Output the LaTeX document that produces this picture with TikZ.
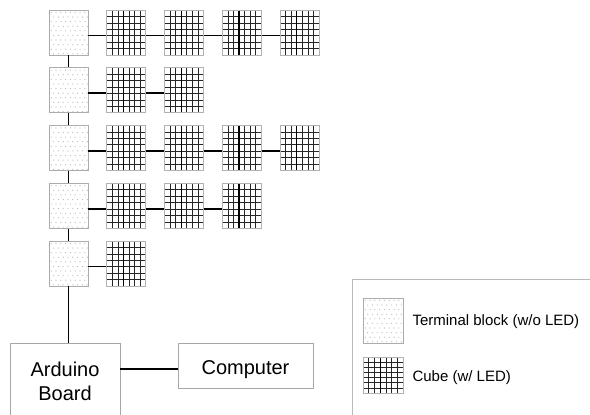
\documentclass[tikz,border=0pt]{standalone}
\usepackage{fontspec}
\setmainfont{Liberation Sans}
\usetikzlibrary{calc}
\newcommand\tbdots{%
  \foreach \r in {0,...,9}{\foreach \c in {0,...,8}{
    \pgfmathsetmacro\dx{2.2+\c*4.8+mod(\r,2)*2.4}
    \fill[gray!55] ($(path picture bounding box.north west)+(\dx,{2.4+\r*4.6})$) circle (0.6pt);}}}
\newcommand\cubegrid{%
  \foreach \i in {1,...,6}{
    \draw[black!85,line width=0.6pt] ($(path picture bounding box.north west)!\i/7!(path picture bounding box.north east)$) -- ($(path picture bounding box.south west)!\i/7!(path picture bounding box.south east)$);
    \draw[black!85,line width=0.6pt] ($(path picture bounding box.north west)!\i/7!(path picture bounding box.south west)$) -- ($(path picture bounding box.north east)!\i/7!(path picture bounding box.south east)$);}
  \draw[black,line width=1.1pt] ($(path picture bounding box.north west)!3/7!(path picture bounding box.north east)$) -- ($(path picture bounding box.south west)!3/7!(path picture bounding box.south east)$);}
\begin{document}
\begin{tikzpicture}[x=1pt,y=-1pt,
  tblock/.style={draw=gray!65, line width=0.9pt, minimum width=39pt, minimum height=45pt, inner sep=0pt, path picture={\tbdots}},
  cube/.style={draw=gray!60, line width=0.9pt, minimum width=39pt, minimum height=45pt, inner sep=0pt, path picture={\cubegrid}},
  conn/.style={black, line width=1.8pt},
  box/.style={draw=gray!70, line width=0.8pt, inner sep=0pt, font=\fontsize{20}{24}\selectfont, align=center},
  legtext/.style={anchor=west, font=\fontsize{15}{18}\selectfont}]
\clip (0,0) rectangle (590,415);
\fill[white] (0,0) rectangle (590,415);
% terminal blocks and cubes
\foreach \r/\n in {1/4,2/2,3/4,4/3,5/1}{
  \node[tblock] (tb\r) at (68.5,{32.5+(\r-1)*57.75}) {};
  \foreach \k in {1,...,\n}{
    \node[cube] (c\r\k) at ({68.5+\k*57.75},{32.5+(\r-1)*57.75}) {};
  }
}
% vertical connectors
\draw[conn] (tb1.south) -- (tb2.north);
\draw[conn] (tb2.south) -- (tb3.north);
\draw[conn] (tb3.south) -- (tb4.north);
\draw[conn] (tb4.south) -- (tb5.north);
% horizontal connectors
\draw[conn] ([yshift=-3pt]tb1.east) -- ([yshift=-3pt]c11.west);
\draw[conn] ([yshift=-3pt]c11.east) -- ([yshift=-3pt]c12.west);
\draw[conn] ([yshift=-3pt]c12.east) -- ([yshift=-3pt]c13.west);
\draw[conn] ([yshift=-3pt]c13.east) -- ([yshift=-3pt]c14.west);
\draw[conn] ([yshift=-3pt]tb2.east) -- ([yshift=-3pt]c21.west);
\draw[conn] ([yshift=-3pt]c21.east) -- ([yshift=-3pt]c22.west);
\draw[conn] ([yshift=-3pt]tb3.east) -- ([yshift=-3pt]c31.west);
\draw[conn] ([yshift=-3pt]c31.east) -- ([yshift=-3pt]c32.west);
\draw[conn] ([yshift=-3pt]c32.east) -- ([yshift=-3pt]c33.west);
\draw[conn] ([yshift=-3pt]c33.east) -- ([yshift=-3pt]c34.west);
\draw[conn] ([yshift=-3pt]tb4.east) -- ([yshift=-3pt]c41.west);
\draw[conn] ([yshift=-3pt]c41.east) -- ([yshift=-3pt]c42.west);
\draw[conn] ([yshift=-3pt]c42.east) -- ([yshift=-3pt]c43.west);
\draw[conn] ([yshift=-3pt]tb5.east) -- ([yshift=-3pt]c51.west);
% arduino and computer
\node[box, minimum width=110pt, minimum height=76pt, anchor=north] (ard) at (65,343) {Arduino\\Board};
\node[box, minimum width=135pt, minimum height=45pt, text height=22pt, text depth=4pt] (comp) at (245.5,365.5) {Computer};
\draw[conn] (tb5.south) -- (tb5.south |- ard.north);
\coordinate (cl) at ([yshift=-3.5pt]comp.west);
\draw[conn] (cl) -- (cl -| ard.east);
% legend
\node[draw=gray!55, line width=0.7pt, minimum width=260pt, minimum height=160pt, anchor=north west] (leg) at (352,279) {};
\node[tblock, minimum width=40pt] (ltb) at (383,320.5) {};
\node[cube, minimum width=40pt, minimum height=36pt] (lcube) at (383,375) {};
\node[legtext] (lt1) at (409,322) {Terminal block (w/o LED)};
\node[legtext] (lt2) at (409,378) {Cube (w/ LED)};
\end{tikzpicture}
\end{document}
